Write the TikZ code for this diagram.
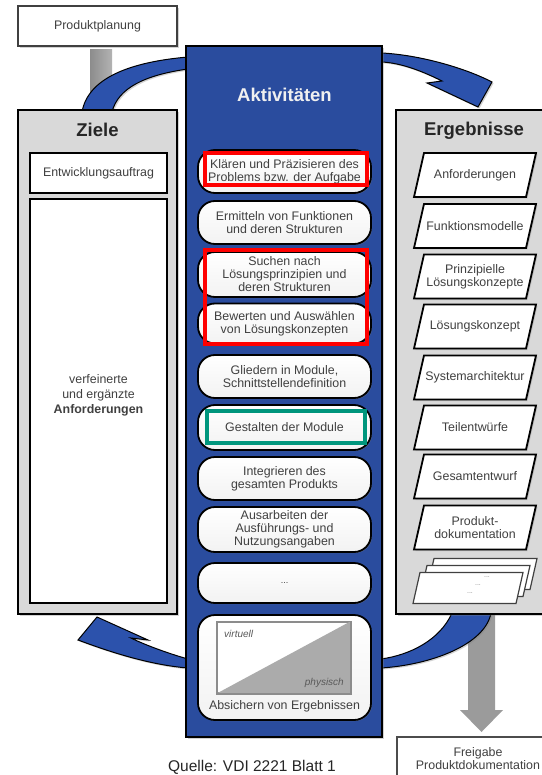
\documentclass[tikz,border=0pt]{standalone}
\usepackage{fontspec}
\setmainfont{Liberation Sans}
\usetikzlibrary{shapes.geometric,shadows}
\definecolor{bluepanel}{RGB}{42,76,158}
\definecolor{bluearrow}{RGB}{44,82,172}
\definecolor{panelgray}{RGB}{217,217,217}
\definecolor{txt}{RGB}{64,64,64}
\definecolor{hlred}{RGB}{255,0,0}
\definecolor{hlteal}{RGB}{0,150,125}
\definecolor{arrgray}{RGB}{155,155,155}
\newcommand{\fsz}[2]{\fontsize{#1}{#2}\selectfont}
% parallelogram result box: name, x, y, text
\newcommand{\resbox}[4]{%
  \filldraw[resline] ({#2-51},{#3-22}) -- ({#2+61},{#3-22}) -- ({#2+51},{#3+22}) -- ({#2-61},{#3+22}) -- cycle;
  \node[lbl] (#1) at (#2,#3) {#4};}
% stacked sheet: name, x, y
\newcommand{\stacksheet}[3]{%
  \filldraw[stackline] ({#2-48},{#3-15.5}) -- ({#2+55},{#3-15.5}) -- ({#2+48},{#3+15.5}) -- ({#2-55},{#3+15.5}) -- cycle;
  \coordinate (#1) at (#2,#3);}
\begin{document}
\begin{tikzpicture}[x=1pt,y=-1pt,
  shad/.style={drop shadow={opacity=0.35,shadow xshift=2pt,shadow yshift=-2pt}},
  panel/.style={draw=black, line width=1.3pt, fill=panelgray, shad, inner sep=0pt},
  innerbox/.style={draw=black, line width=1.8pt, fill=white, inner sep=0pt},
  lbl/.style={text=txt, font=\fsz{12.4}{13}, align=center, inner sep=0pt},
  head/.style={text=black!85, font=\bfseries\fsz{18.5}{20}, inner sep=0pt},
  pill/.style={draw=black, line width=1.8pt, rounded corners=17pt, top color=white, bottom color=black!5,
    minimum width=173pt, inner sep=0pt, align=center, text=txt, font=\fsz{12.4}{13},
    drop shadow={opacity=0.5,shadow xshift=1pt,shadow yshift=-1pt}},
  resline/.style={draw=black, line width=1.8pt, fill=white, drop shadow={opacity=0.3,shadow xshift=1.5pt,shadow yshift=-1.5pt}},
  stackline/.style={draw=black!75, line width=1.2pt, fill=white},
  bluearr/.style={fill=bluearrow, draw=black, line width=1pt, drop shadow={opacity=0.35,shadow xshift=1.5pt,shadow yshift=-1.5pt}},
  hlbox/.style={line width=4pt}
]
\useasboundingbox (0,0) rectangle (541,775);
\fill[white] (0,0) rectangle (541,775);

% gray bar below Produktplanung
\fill[left color=black!45, right color=black!30] (90,50) rectangle (112,112);
\node[draw=black!75, line width=1.5pt, fill=white, minimum width=159pt, minimum height=40pt, shad, lbl] (pp) at (97.5,26) {Produktplanung};

% gray down arrow
\fill[arrgray] (468,615) -- (495,615) -- (495,710) -- (503,710) -- (481.5,732) -- (460,710) -- (468,710) -- cycle;

% blue cycle arrows
\path[bluearr] (82,112) .. controls (88,78) and (130,62) .. (188,57) -- (188,69) .. controls (145,75) and (118,88) .. (112,112) -- cycle;
\path[bluearr] (382,53) .. controls (420,55) and (465,68) .. (492,82) -- (478,107) -- (427,83) -- (442,81) .. controls (420,70) and (400,63) .. (382,62) -- cycle;
\path[bluearr] (188,659) .. controls (170,654) and (145,645) .. (131,638) -- (148,640) -- (97,617) -- (78,640) .. controls (110,652) and (150,665) .. (188,668) -- cycle;
\path[bluearr] (452,613) .. controls (440,640) and (410,655) .. (381,659) -- (381,668) .. controls (430,665) and (485,645) .. (491,613) -- cycle;

% Ziele panel
\node[panel, minimum width=159pt, minimum height=504pt] (ziele) at (97.5,362) {};
\node[head] (zielehead) at (97.5,130) {Ziele};
\node[innerbox, minimum width=137pt, minimum height=40pt, lbl] (auftrag) at (98.5,173) {Entwicklungsauftrag};
\node[innerbox, minimum width=137pt, minimum height=404pt] (anf) at (98.5,401) {};
\node[lbl, font=\fsz{12.4}{15}] (anftext) at (98.5,395) {verfeinerte\\und ergänzte\\\textbf{Anforderungen}};

% Ergebnisse panel
\node[panel, minimum width=174pt, minimum height=504pt] (erg) at (483,362) {};
\node[head] (erghead) at (474,131) {Ergebnisse};
\resbox{r1}{475}{175}{Anforderungen}
\resbox{r2}{475}{226}{Funktionsmodelle}
\resbox{r3}{475}{276.5}{Prinzipielle\\Lösungskonzepte}
\resbox{r4}{475}{326.5}{Lösungskonzept}
\resbox{r5}{475}{377.5}{Systemarchitektur}
\resbox{r6}{475}{427.5}{Teilentwürfe}
\resbox{r7}{475}{476.5}{Gesamtentwurf}
\resbox{r8}{475}{527.5}{Produkt-\\dokumentation}
\stacksheet{s3}{482}{574}
\stacksheet{s2}{475}{581}
\stacksheet{s1}{468}{588}
\node[text=black!45, font=\fsz{7}{8}, inner sep=0pt] (d1) at (487,577) {...};
\node[text=black!45, font=\fsz{7}{8}, inner sep=0pt] (d2) at (478,585) {...};
\node[text=black!45, font=\fsz{7}{8}, inner sep=0pt] (d3) at (470,593) {...};

% Aktivitaeten panel
\node[draw=black, line width=1.5pt, fill=bluepanel, minimum width=196pt, minimum height=691pt, shad, inner sep=0pt] (akt) at (284,391.5) {};
\node[text=white!94!black, font=\bfseries\fsz{18.5}{20}, inner sep=0pt] (akthead) at (284.5,95) {Aktivitäten};
\node[pill, minimum height=43pt] (a1) at (284.5,171.5) {Klären und Präzisieren des\\Problems bzw. der Aufgabe};
\node[pill, minimum height=43pt] (a2) at (284.5,222.5) {Ermitteln von Funktionen\\und deren Strukturen};
\node[pill, minimum height=45pt] (a3) at (284.5,274.5) {Suchen nach\\Lösungsprinzipien und\\deren Strukturen};
\node[pill, minimum height=40pt] (a4) at (284.5,323.5) {Bewerten und Auswählen\\von Lösungskonzepten};
\node[pill, minimum height=43pt] (a5) at (284.5,376.5) {Gliedern in Module,\\Schnittstellendefinition};
\node[pill, minimum height=45pt] (a6) at (284.5,427.5) {Gestalten der Module};
\node[pill, minimum height=43pt] (a7) at (284.5,478.5) {Integrieren des\\gesamten Produkts};
\node[pill, minimum height=45pt] (a8) at (284.5,529.5) {Ausarbeiten der\\Ausführungs- und\\Nutzungsangaben};
\node[pill, minimum height=40pt, font=\fsz{9}{10}] (a9) at (284.5,583) {...};
\node[pill, minimum height=105pt] (a10) at (284.5,667.5) {};
\node[draw=black!45, line width=1.5pt, fill=white, minimum width=133pt, minimum height=71pt, inner sep=0pt] (vp) at (283.5,657.5) {};
\fill[black!33] (vp.south west) -- (vp.north east) -- (vp.south east) -- cycle;
\draw[black!45, line width=1.5pt] (vp.south west) rectangle (vp.north east);
\node[anchor=west, text=black!65, font=\itshape\fsz{10}{11}, inner sep=0pt] (virt) at (224,634) {virtuell};
\node[anchor=east, text=black!65, font=\itshape\fsz{10}{11}, inner sep=0pt] (phys) at (344,683) {physisch};
\node[lbl] (abs) at (284.5,706) {Absichern von Ergebnissen};

% highlight frames
\draw[hlred, hlbox] (205,153) rectangle (366.5,185);
\draw[hlred, hlbox] (205,250) rectangle (366.5,344);
\draw[hlteal, hlbox] (207,411) rectangle (365,443);

% bottom
\node[text=black!85, font=\fsz{15.5}{17}, inner sep=0pt] (quelle) at (252,767) {Quelle: VDI 2221 Blatt 1};
\node[draw=black!70, line width=1.2pt, fill=white, minimum width=163pt, minimum height=63pt, inner sep=0pt] (frei) at (478.5,768.5) {};
\node[lbl] (freitext) at (478,758.5) {Freigabe\\Produktdokumentation};
\end{tikzpicture}
\end{document}
